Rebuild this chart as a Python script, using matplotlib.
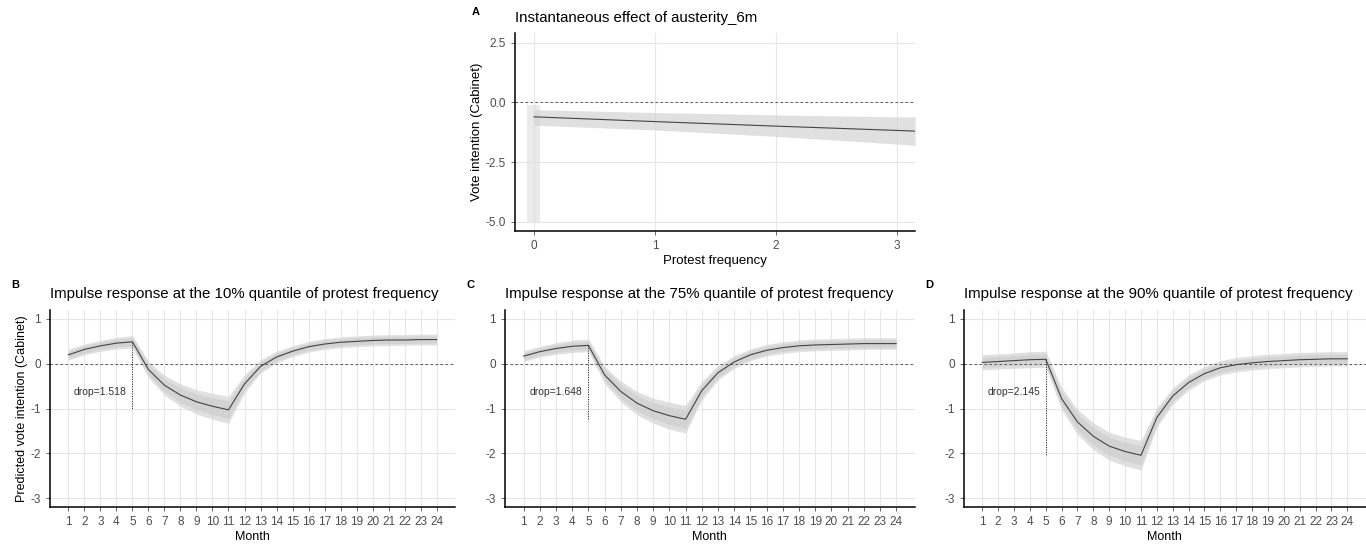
import numpy as np
import matplotlib
matplotlib.use("Agg")
import matplotlib.pyplot as plt

plt.rcParams['font.family'] = ['Liberation Sans', 'DejaVu Sans']
plt.rcParams['axes.unicode_minus'] = False

# panel A: instantaneous effect
freq = [0, 1, 2, 3, 3.15]
effect = [-0.6, -0.8, -0.99, -1.17, -1.2]
effect_hi = [-0.3, -0.42, -0.52, -0.6, -0.6]
effect_lo = [-0.95, -1.15, -1.42, -1.74, -1.8]
spike_x = [-0.055, 0.05]
spike_hi = [-0.1, -0.1]
spike_lo = [-5.0, -5.0]

# panels B-D: impulse responses
months = list(range(1, 25))
resp_10 = [0.2, 0.32, 0.40, 0.46, 0.49, -0.13, -0.48, -0.70, -0.85, -0.95, -1.03, -0.45,
           -0.06, 0.15, 0.28, 0.38, 0.44, 0.48, 0.50, 0.52, 0.53, 0.53, 0.54, 0.54]
resp_75 = [0.17, 0.27, 0.34, 0.39, 0.41, -0.25, -0.62, -0.88, -1.05, -1.16, -1.24, -0.6,
           -0.2, 0.04, 0.2, 0.3, 0.36, 0.4, 0.42, 0.43, 0.44, 0.45, 0.45, 0.45]
resp_90 = [0.03, 0.05, 0.07, 0.09, 0.10, -0.78, -1.3, -1.62, -1.84, -1.96, -2.045, -1.2,
           -0.72, -0.42, -0.22, -0.09, -0.02, 0.02, 0.05, 0.07, 0.09, 0.1, 0.11, 0.11]
ci_10 = [0.12, 0.12, 0.12, 0.13, 0.14, 0.18, 0.22, 0.25, 0.27, 0.29, 0.30, 0.2,
         0.15, 0.13, 0.12, 0.12, 0.12, 0.12, 0.12, 0.12, 0.12, 0.12, 0.12, 0.12]
ci_75 = [0.12, 0.12, 0.13, 0.14, 0.14, 0.19, 0.23, 0.26, 0.28, 0.30, 0.31, 0.21,
         0.16, 0.14, 0.13, 0.13, 0.13, 0.13, 0.13, 0.13, 0.13, 0.13, 0.13, 0.13]
ci_90 = [0.17, 0.17, 0.17, 0.18, 0.18, 0.25, 0.28, 0.30, 0.31, 0.32, 0.33, 0.22,
         0.18, 0.17, 0.16, 0.16, 0.16, 0.16, 0.16, 0.16, 0.16, 0.16, 0.16, 0.16]
drops = ["drop=1.518", "drop=1.648", "drop=2.145"]
titles = ["Impulse response at the 10% quantile of protest frequency",
          "Impulse response at the 75% quantile of protest frequency",
          "Impulse response at the 90% quantile of protest frequency"]
letters = ["B", "C", "D"]

grid_c = "#e6e6e6"
tick_c = "#4d4d4d"


def style(ax):
    for s in ["top", "right"]:
        ax.spines[s].set_visible(False)
    for s in ["left", "bottom"]:
        ax.spines[s].set_linewidth(1.1)
        ax.spines[s].set_color("black")
    ax.grid(True, color=grid_c, linewidth=0.8)
    ax.set_axisbelow(True)
    ax.tick_params(colors=tick_c, labelsize=8.5, length=3, width=0.6, labelcolor=tick_c)


fig = plt.figure(figsize=(13.66, 5.46), dpi=100)

# panel A
axA = fig.add_axes([0.377, 0.577, 0.293, 0.363])
style(axA)
axA.fill_between(spike_x, spike_lo, spike_hi, color="#dcdcdc", alpha=0.6, linewidth=0)
axA.fill_between(freq, effect_lo, effect_hi, color="#d4d4d4", alpha=0.7, linewidth=0)
axA.plot(freq, effect, color="#444444", linewidth=0.8)
axA.axhline(0, color="#444444", linestyle=(0, (3, 3)), linewidth=0.6)
axA.set_xlim(-0.157, 3.15)
axA.set_ylim(-5.38, 2.92)
axA.set_xticks([0, 1, 2, 3])
axA.set_yticks([-5.0, -2.5, 0.0, 2.5])
axA.set_yticklabels(["-5.0", "-2.5", "0.0", "2.5"])
axA.set_xlabel("Protest frequency", fontsize=9.5, labelpad=2)
axA.set_ylabel("Vote intention (Cabinet)", fontsize=9.5, labelpad=2)
axA.set_title("Instantaneous effect of austerity_6m", fontsize=10.8, loc="left", pad=8)
fig.text(0.3455, 0.978, "A", fontsize=8, fontweight="bold", va="center")

# panels B-D
lefts = [0.0366, 0.3697, 0.7057]
widths = [0.2965, 0.300, 0.294]
series = [(resp_10, ci_10), (resp_75, ci_75), (resp_90, ci_90)]
for i in range(3):
    ax = fig.add_axes([lefts[i], 0.0714, widths[i], 0.3608])
    style(ax)
    y = np.array(series[i][0])
    w = np.array(series[i][1])
    ax.fill_between(months, y - w, y + w, color="#d4d4d4", alpha=0.7, linewidth=0)
    ax.fill_between(months, y - 0.65 * w, y + 0.65 * w, color="#c8c8c8", alpha=0.5, linewidth=0)
    ax.plot(months, y, color="#444444", linewidth=0.8)
    ax.axhline(0, color="#444444", linestyle=(0, (3, 3)), linewidth=0.6)
    top = y[4]
    bottom = y[10]
    ax.plot([months[4], months[4]], [top, bottom], color="#222222", linestyle=(0, (1, 1.5)), linewidth=0.7)
    ax.text(3, -0.63, drops[i], fontsize=7.5, color="#333333", ha="center", va="center")
    ax.set_xlim(-0.15, 25.15)
    ax.set_ylim(-3.2, 1.2)
    ax.set_xticks(months)
    ax.set_yticks([-3, -2, -1, 0, 1])
    ax.set_xlabel("Month", fontsize=9, labelpad=2)
    if i == 0:
        ax.set_ylabel("Predicted vote intention (Cabinet)", fontsize=9, labelpad=2)
    ax.set_title(titles[i], fontsize=10.8, loc="left", pad=9)
    fig.text(lefts[i] - 0.028, 0.478, letters[i], fontsize=8, fontweight="bold", va="center")

fig.savefig("out.png", dpi=100)
